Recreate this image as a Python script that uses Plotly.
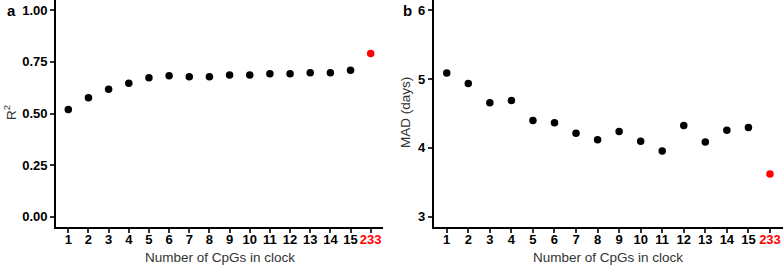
import plotly.graph_objects as go

categories = ["1", "2", "3", "4", "5", "6", "7", "8", "9", "10", "11", "12", "13", "14", "15", "233"]
r2_values = [0.519, 0.576, 0.617, 0.647, 0.673, 0.683, 0.678, 0.678, 0.686, 0.686,
             0.693, 0.693, 0.697, 0.697, 0.710, 0.791]
mad_values = [5.087, 4.937, 4.655, 4.689, 4.398, 4.364, 4.214, 4.117, 4.238, 4.097,
              3.956, 4.325, 4.087, 4.257, 4.296, 3.621]
r2_ticks = [0.0, 0.25, 0.5, 0.75, 1.0]
r2_ticktext = ["0.00", "0.25", "0.50", "0.75", "1.00"]
mad_ticks = [3, 4, 5, 6]

W, H = 783, 265
colors = ["black"] * 15 + ["red"]
ticktext = [c if c != "233" else '<span style="color:red">233</span>' for c in categories]

FONT = "Liberation Sans, Arial, sans-serif"

fig = go.Figure()
fig.add_trace(go.Scatter(x=categories, y=r2_values, mode="markers",
                         marker=dict(color=colors, size=7.5), xaxis="x", yaxis="y",
                         showlegend=False, cliponaxis=False))
fig.add_trace(go.Scatter(x=categories, y=mad_values, mode="markers",
                         marker=dict(color=colors, size=7.5), xaxis="x2", yaxis="y2",
                         showlegend=False, cliponaxis=False))

ydom = [(H - 227) / H, 1.0]
tickfont = dict(family=FONT, size=13, color="black", weight="bold")
titlefont = dict(family=FONT, size=13.5, color="#333333")

common_x = dict(type="category", categoryorder="array", categoryarray=categories,
                range=[-0.6, 15.6], showline=True, linecolor="black", linewidth=2,
                ticks="outside", ticklen=4, tickwidth=1.5, tickcolor="#333333",
                tickvals=categories, ticktext=ticktext, tickfont=tickfont,
                ticklabelstandoff=-5,
                showgrid=False, zeroline=False, automargin=False)
common_y = dict(showline=True, linecolor="black", linewidth=2, ticks="outside",
                ticklen=4, tickwidth=1.5, tickcolor="#333333", tickfont=tickfont,
                showgrid=False, zeroline=False, automargin=False)

ax_a = (56.2, 382.8)
ax_b = (433.8, 782.9)


def ann(text, x, y, font, angle=0):
    return dict(text=text, x=x / W, y=1 - y / H, xref="paper", yref="paper",
                xanchor="center", yanchor="middle", showarrow=False,
                textangle=angle, font=font)


panel_font = dict(family=FONT, size=15, color="black")

fig.update_layout(
    width=W, height=H, margin=dict(l=0, r=0, t=0, b=0),
    plot_bgcolor="white", paper_bgcolor="white",
    xaxis=dict(domain=[ax_a[0] / W, ax_a[1] / W], anchor="y", **common_x),
    yaxis=dict(domain=ydom, anchor="x", range=[-0.05, 1.05], tickvals=r2_ticks,
               ticktext=r2_ticktext, **common_y),
    xaxis2=dict(domain=[ax_b[0] / W, ax_b[1] / W], anchor="y2", **common_x),
    yaxis2=dict(domain=ydom, anchor="x2", range=[2.85, 6.15], tickvals=mad_ticks,
                **common_y),
    annotations=[
        ann("<b>a</b>", 11, 11, panel_font),
        ann("<b>b</b>", 407, 11, panel_font),
        ann("Number of CpGs in clock", (ax_a[0] + ax_a[1]) / 2, 257, titlefont),
        ann("Number of CpGs in clock", (ax_b[0] + ax_b[1]) / 2, 257, titlefont),
        ann("R<sup>2</sup>", 10, 113, titlefont, -90),
        ann("MAD (days)", 405, 113, titlefont, -90),
    ],
)

fig.write_html("out.html", config={"displayModeBar": False},
               post_script="document.body.style.margin='0';")
